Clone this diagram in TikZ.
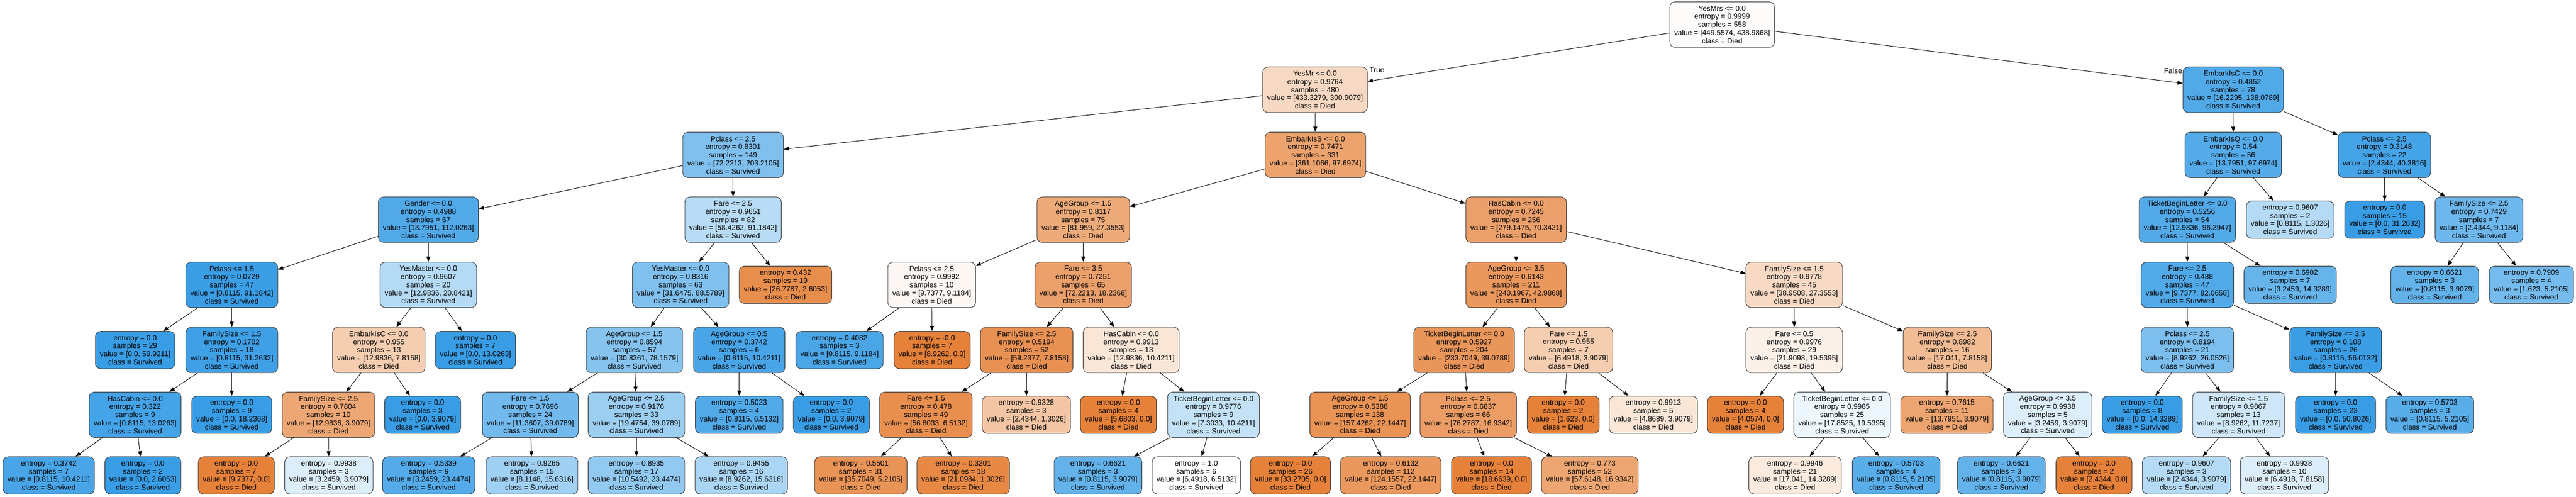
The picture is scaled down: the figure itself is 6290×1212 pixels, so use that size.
\documentclass[tikz,border=0pt]{standalone}
\usepackage{fontspec}
\setmainfont{Liberation Sans}
\usetikzlibrary{arrows.meta}
\usepackage{xcolor}
\definecolor{died}{RGB}{229,129,57}
\definecolor{surv}{RGB}{57,157,229}
\tikzset{
        split/.style={draw=black!80, line width=0.6pt, rounded corners=6.5pt, align=center,
                inner xsep=5.5pt, inner ysep=0pt, minimum height=55.5pt,
                font=\fontsize{9}{9.9}\selectfont},
        leaf/.style={split, minimum height=45.5pt},
        lbl/.style={inner sep=0pt, font=\fontsize{9}{9.9}\selectfont}
}

\begin{document}
\begin{tikzpicture}[x=0.5pt, y=0.5pt, >={Triangle[length=6.4pt,width=4.8pt]}]
        \useasboundingbox (0,0) rectangle (6290,-1212);

        % level 0 and 1
        \node [split,fill=died!2] (0) at (4205,-60) {YesMrs <= 0.0\\entropy = 0.9999\\samples = 558\\value = [449.5574, 438.9868]\\class = Died};
        \node [split,fill=died!31] (1) at (3211,-219) {YesMr <= 0.0\\entropy = 0.9764\\samples = 480\\value = [433.3279, 300.9079]\\class = Died};
        \node [split,fill=surv!88] (70) at (5453,-219) {EmbarkIsC <= 0.0\\entropy = 0.4852\\samples = 78\\value = [16.2295, 138.0789]\\class = Survived};
        \node [lbl,anchor=base west] (t) at ([xshift=2pt,yshift=-6.75pt]1.north east) {True};
        \node [lbl,anchor=base east] (f) at ([xshift=-0.5pt,yshift=-8pt]70.north west) {False};

        % level 2
        \node [split,fill=surv!64] (2) at (1790,-378) {Pclass <= 2.5\\entropy = 0.8301\\samples = 149\\value = [72.2213, 203.2105]\\class = Survived};
        \node [split,fill=died!73] (31) at (3212,-378) {EmbarkIsS <= 0.0\\entropy = 0.7471\\samples = 331\\value = [361.1066, 97.6974]\\class = Died};
        \node [split,fill=surv!86] (71) at (5453,-378) {EmbarkIsQ <= 0.0\\entropy = 0.54\\samples = 56\\value = [13.7951, 97.6974]\\class = Survived};
        \node [split,fill=surv!94] (84) at (5822,-378) {Pclass <= 2.5\\entropy = 0.3148\\samples = 22\\value = [2.4344, 40.3816]\\class = Survived};

        % level 3
        \node [split,fill=surv!88] (3) at (1046,-536) {Gender <= 0.0\\entropy = 0.4988\\samples = 67\\value = [13.7951, 112.0263]\\class = Survived};
        \node [split,fill=surv!36] (18) at (1790,-536) {Fare <= 2.5\\entropy = 0.9651\\samples = 82\\value = [58.4262, 91.1842]\\class = Survived};
        \node [split,fill=died!67] (32) at (2645,-536) {AgeGroup <= 1.5\\entropy = 0.8117\\samples = 75\\value = [81.959, 27.3553]\\class = Died};
        \node [split,fill=died!75] (47) at (3702,-536) {HasCabin <= 0.0\\entropy = 0.7245\\samples = 256\\value = [279.1475, 70.3421]\\class = Died};
        \node [split,fill=surv!87] (72) at (5341,-536) {TicketBeginLetter <= 0.0\\entropy = 0.5256\\samples = 54\\value = [12.9836, 96.3947]\\class = Survived};
        \node [leaf,fill=surv!38] (83) at (5592,-536) {entropy = 0.9607\\samples = 2\\value = [0.8115, 1.3026]\\class = Survived};
        \node [leaf,fill=surv] (85) at (5823,-536) {entropy = 0.0\\samples = 15\\value = [0.0, 31.2632]\\class = Survived};
        \node [split,fill=surv!73] (86) at (6053,-536) {FamilySize <= 2.5\\entropy = 0.7429\\samples = 7\\value = [2.4344, 9.1184]\\class = Survived};

        % level 4
        \node [split,fill=surv!99] (4) at (566,-695) {Pclass <= 1.5\\entropy = 0.0729\\samples = 47\\value = [0.8115, 91.1842]\\class = Survived};
        \node [split,fill=surv!38] (11) at (1046,-695) {YesMaster <= 0.0\\entropy = 0.9607\\samples = 20\\value = [12.9836, 20.8421]\\class = Survived};
        \node [split,fill=surv!64] (19) at (1662,-695) {YesMaster <= 0.0\\entropy = 0.8316\\samples = 63\\value = [31.6475, 88.5789]\\class = Survived};
        \node [leaf,fill=died!90] (30) at (1918,-695) {entropy = 0.432\\samples = 19\\value = [26.7787, 2.6053]\\class = Died};
        \node [split,fill=died!6] (33) at (2275,-695) {Pclass <= 2.5\\entropy = 0.9992\\samples = 10\\value = [9.7377, 9.1184]\\class = Died};
        \node [split,fill=died!75] (36) at (2645,-695) {Fare <= 3.5\\entropy = 0.7251\\samples = 65\\value = [72.2213, 18.2368]\\class = Died};
        \node [split,fill=died!82] (48) at (3702,-695) {AgeGroup <= 3.5\\entropy = 0.6143\\samples = 211\\value = [240.1967, 42.9868]\\class = Died};
        \node [split,fill=died!30] (59) at (4381,-695) {FamilySize <= 1.5\\entropy = 0.9778\\samples = 45\\value = [38.9508, 27.3553]\\class = Died};
        \node [split,fill=surv!88] (73) at (5341,-695) {Fare <= 2.5\\entropy = 0.488\\samples = 47\\value = [9.7377, 82.0658]\\class = Survived};
        \node [leaf,fill=surv!77] (82) at (5592,-695) {entropy = 0.6902\\samples = 7\\value = [3.2459, 14.3289]\\class = Survived};
        \node [leaf,fill=surv!79] (87) at (5945,-695) {entropy = 0.6621\\samples = 3\\value = [0.8115, 3.9079]\\class = Survived};
        \node [leaf,fill=surv!69] (88) at (6181,-695) {entropy = 0.7909\\samples = 4\\value = [1.623, 5.2105]\\class = Survived};

        % level 5
        \node [leaf,fill=surv] (5) at (330,-854) {entropy = 0.0\\samples = 29\\value = [0.0, 59.9211]\\class = Survived};
        \node [split,fill=surv!97] (6) at (566,-854) {FamilySize <= 1.5\\entropy = 0.1702\\samples = 18\\value = [0.8115, 31.2632]\\class = Survived};
        \node [split,fill=died!40] (12) at (925,-854) {EmbarkIsC <= 0.0\\entropy = 0.955\\samples = 13\\value = [12.9836, 7.8158]\\class = Died};
        \node [leaf,fill=surv] (17) at (1161,-854) {entropy = 0.0\\samples = 7\\value = [0.0, 13.0263]\\class = Survived};
        \node [split,fill=surv!61] (20) at (1549,-854) {AgeGroup <= 1.5\\entropy = 0.8594\\samples = 57\\value = [30.8361, 78.1579]\\class = Survived};
        \node [split,fill=surv!92] (27) at (1805,-854) {AgeGroup <= 0.5\\entropy = 0.3742\\samples = 6\\value = [0.8115, 10.4211]\\class = Survived};
        \node [leaf,fill=surv!91] (34) at (2050,-854) {entropy = 0.4082\\samples = 3\\value = [0.8115, 9.1184]\\class = Survived};
        \node [leaf,fill=died] (35) at (2276,-854) {entropy = -0.0\\samples = 7\\value = [8.9262, 0.0]\\class = Died};
        \node [split,fill=died!87] (37) at (2507,-854) {FamilySize <= 2.5\\entropy = 0.5194\\samples = 52\\value = [59.2377, 7.8158]\\class = Died};
        \node [split,fill=died!20] (42) at (2762,-854) {HasCabin <= 0.0\\entropy = 0.9913\\samples = 13\\value = [12.9836, 10.4211]\\class = Died};
        \node [split,fill=died!83] (49) at (3575,-854) {TicketBeginLetter <= 0.0\\entropy = 0.5927\\samples = 204\\value = [233.7049, 39.0789]\\class = Died};
        \node [split,fill=died!40] (56) at (3830,-854) {Fare <= 1.5\\entropy = 0.955\\samples = 7\\value = [6.4918, 3.9079]\\class = Died};
        \node [split,fill=died!11] (60) at (4381,-854) {Fare <= 0.5\\entropy = 0.9976\\samples = 29\\value = [21.9098, 19.5395]\\class = Died};
        \node [split,fill=died!54] (65) at (4755,-854) {FamilySize <= 2.5\\entropy = 0.8982\\samples = 16\\value = [17.041, 7.8158]\\class = Died};
        \node [split,fill=surv!66] (74) at (5341,-854) {Pclass <= 2.5\\entropy = 0.8194\\samples = 21\\value = [8.9262, 26.0526]\\class = Survived};
        \node [split,fill=surv!99] (79) at (5703,-854) {FamilySize <= 3.5\\entropy = 0.108\\samples = 26\\value = [0.8115, 56.0132]\\class = Survived};

        % level 6
        \node [split,fill=surv!94] (7) at (330,-1012) {HasCabin <= 0.0\\entropy = 0.322\\samples = 9\\value = [0.8115, 13.0263]\\class = Survived};
        \node [leaf,fill=surv] (10) at (566,-1012) {entropy = 0.0\\samples = 9\\value = [0.0, 18.2368]\\class = Survived};
        \node [split,fill=died!70] (13) at (802,-1012) {FamilySize <= 2.5\\entropy = 0.7804\\samples = 10\\value = [12.9836, 3.9079]\\class = Died};
        \node [leaf,fill=surv] (16) at (1032,-1012) {entropy = 0.0\\samples = 3\\value = [0.0, 3.9079]\\class = Survived};
        \node [split,fill=surv!71] (21) at (1295,-1012) {Fare <= 1.5\\entropy = 0.7696\\samples = 24\\value = [11.3607, 39.0789]\\class = Survived};
        \node [split,fill=surv!50] (24) at (1554,-1012) {AgeGroup <= 2.5\\entropy = 0.9176\\samples = 33\\value = [19.4754, 39.0789]\\class = Survived};
        \node [leaf,fill=surv!88] (28) at (1805,-1012) {entropy = 0.5023\\samples = 4\\value = [0.8115, 6.5132]\\class = Survived};
        \node [leaf,fill=surv] (29) at (2030,-1012) {entropy = 0.0\\samples = 2\\value = [0.0, 3.9079]\\class = Survived};
        \node [split,fill=died!89] (38) at (2261,-1012) {Fare <= 1.5\\entropy = 0.478\\samples = 49\\value = [56.8033, 6.5132]\\class = Died};
        \node [leaf,fill=died!46] (41) at (2506,-1012) {entropy = 0.9328\\samples = 3\\value = [2.4344, 1.3026]\\class = Died};
        \node [leaf,fill=died] (43) at (2731,-1012) {entropy = 0.0\\samples = 4\\value = [5.6803, 0.0]\\class = Died};
        \node [split,fill=surv!30] (44) at (2963,-1012) {TicketBeginLetter <= 0.0\\entropy = 0.9776\\samples = 9\\value = [7.3033, 10.4211]\\class = Survived};
        \node [split,fill=died!86] (50) at (3321,-1012) {AgeGroup <= 1.5\\entropy = 0.5388\\samples = 138\\value = [157.4262, 22.1447]\\class = Died};
        \node [split,fill=died!78] (53) at (3585,-1012) {Pclass <= 2.5\\entropy = 0.6837\\samples = 66\\value = [76.2787, 16.9342]\\class = Died};
        \node [leaf,fill=died] (57) at (3817,-1012) {entropy = 0.0\\samples = 2\\value = [1.623, 0.0]\\class = Died};
        \node [leaf,fill=died!20] (58) at (4037,-1012) {entropy = 0.9913\\samples = 5\\value = [4.8689, 3.9079]\\class = Died};
        \node [leaf,fill=died] (61) at (4262,-1012) {entropy = 0.0\\samples = 4\\value = [4.0574, 0.0]\\class = Died};
        \node [split,fill=surv!9] (62) at (4498,-1012) {TicketBeginLetter <= 0.0\\entropy = 0.9985\\samples = 25\\value = [17.8525, 19.5395]\\class = Survived};
        \node [leaf,fill=died!72] (66) at (4754,-1012) {entropy = 0.7615\\samples = 11\\value = [13.7951, 3.9079]\\class = Died};
        \node [split,fill=surv!17] (67) at (5000,-1012) {AgeGroup <= 3.5\\entropy = 0.9938\\samples = 5\\value = [3.2459, 3.9079]\\class = Survived};
        \node [leaf,fill=surv] (75) at (5231,-1012) {entropy = 0.0\\samples = 8\\value = [0.0, 14.3289]\\class = Survived};
        \node [split,fill=surv!24] (76) at (5466,-1012) {FamilySize <= 1.5\\entropy = 0.9867\\samples = 13\\value = [8.9262, 11.7237]\\class = Survived};
        \node [leaf,fill=surv] (80) at (5703,-1012) {entropy = 0.0\\samples = 23\\value = [0.0, 50.8026]\\class = Survived};
        \node [leaf,fill=surv!84] (81) at (5933,-1012) {entropy = 0.5703\\samples = 3\\value = [0.8115, 5.2105]\\class = Survived};

        % level 7
        \node [leaf,fill=surv!92] (8) at (119,-1160) {entropy = 0.3742\\samples = 7\\value = [0.8115, 10.4211]\\class = Survived};
        \node [leaf,fill=surv] (9) at (349,-1160) {entropy = 0.0\\samples = 2\\value = [0.0, 2.6053]\\class = Survived};
        \node [leaf,fill=died] (14) at (577,-1160) {entropy = 0.0\\samples = 7\\value = [9.7377, 0.0]\\class = Died};
        \node [leaf,fill=surv!17] (15) at (803,-1160) {entropy = 0.9938\\samples = 3\\value = [3.2459, 3.9079]\\class = Survived};
        \node [leaf,fill=surv!86] (22) at (1047,-1160) {entropy = 0.5339\\samples = 9\\value = [3.2459, 23.4474]\\class = Survived};
        \node [leaf,fill=surv!48] (23) at (1299,-1160) {entropy = 0.9265\\samples = 15\\value = [8.1148, 15.6316]\\class = Survived};
        \node [leaf,fill=surv!55] (25) at (1554,-1160) {entropy = 0.8935\\samples = 17\\value = [10.5492, 23.4474]\\class = Survived};
        \node [leaf,fill=surv!43] (26) at (1810,-1160) {entropy = 0.9455\\samples = 16\\value = [8.9262, 15.6316]\\class = Survived};
        \node [leaf,fill=died!85] (39) at (2102,-1160) {entropy = 0.5501\\samples = 31\\value = [35.7049, 5.2105]\\class = Died};
        \node [leaf,fill=died!94] (40) at (2352,-1160) {entropy = 0.3201\\samples = 18\\value = [21.0984, 1.3026]\\class = Died};
        \node [leaf,fill=surv!79] (45) at (2681,-1160) {entropy = 0.6621\\samples = 3\\value = [0.8115, 3.9079]\\class = Survived};
        \node [leaf,fill=white] (46) at (2921,-1160) {entropy = 1.0\\samples = 6\\value = [6.4918, 6.5132]\\class = Survived};
        \node [leaf,fill=died] (51) at (3151,-1160) {entropy = 0.0\\samples = 26\\value = [33.2705, 0.0]\\class = Died};
        \node [leaf,fill=died!82] (52) at (3396,-1160) {entropy = 0.6132\\samples = 112\\value = [124.1557, 22.1447]\\class = Died};
        \node [leaf,fill=died] (54) at (3642,-1160) {entropy = 0.0\\samples = 14\\value = [18.6639, 0.0]\\class = Died};
        \node [leaf,fill=died!71] (55) at (3882,-1160) {entropy = 0.773\\samples = 52\\value = [57.6148, 16.9342]\\class = Died};
        \node [leaf,fill=died!16] (63) at (4383,-1160) {entropy = 0.9946\\samples = 21\\value = [17.041, 14.3289]\\class = Died};
        \node [leaf,fill=surv!84] (64) at (4630,-1160) {entropy = 0.5703\\samples = 4\\value = [0.8115, 5.2105]\\class = Survived};
        \node [leaf,fill=surv!79] (68) at (4887,-1160) {entropy = 0.6621\\samples = 3\\value = [0.8115, 3.9079]\\class = Survived};
        \node [leaf,fill=died] (69) at (5113,-1160) {entropy = 0.0\\samples = 2\\value = [2.4344, 0.0]\\class = Died};
        \node [leaf,fill=surv!38] (77) at (5339,-1160) {entropy = 0.9607\\samples = 3\\value = [2.4344, 3.9079]\\class = Survived};
        \node [leaf,fill=surv!17] (78) at (5578,-1160) {entropy = 0.9938\\samples = 10\\value = [6.4918, 7.8158]\\class = Survived};

        % edges
        \draw [->, line width=0.6pt] (0) -- (1);
        \draw [->, line width=0.6pt] (0) -- (70);
        \draw [->, line width=0.6pt] (1) -- (2);
        \draw [->, line width=0.6pt] (1) -- (31);
        \draw [->, line width=0.6pt] (2) -- (3);
        \draw [->, line width=0.6pt] (2) -- (18);
        \draw [->, line width=0.6pt] (3) -- (4);
        \draw [->, line width=0.6pt] (3) -- (11);
        \draw [->, line width=0.6pt] (4) -- (5);
        \draw [->, line width=0.6pt] (4) -- (6);
        \draw [->, line width=0.6pt] (6) -- (7);
        \draw [->, line width=0.6pt] (6) -- (10);
        \draw [->, line width=0.6pt] (7) -- (8);
        \draw [->, line width=0.6pt] (7) -- (9);
        \draw [->, line width=0.6pt] (11) -- (12);
        \draw [->, line width=0.6pt] (11) -- (17);
        \draw [->, line width=0.6pt] (12) -- (13);
        \draw [->, line width=0.6pt] (12) -- (16);
        \draw [->, line width=0.6pt] (13) -- (14);
        \draw [->, line width=0.6pt] (13) -- (15);
        \draw [->, line width=0.6pt] (18) -- (19);
        \draw [->, line width=0.6pt] (18) -- (30);
        \draw [->, line width=0.6pt] (19) -- (20);
        \draw [->, line width=0.6pt] (19) -- (27);
        \draw [->, line width=0.6pt] (20) -- (21);
        \draw [->, line width=0.6pt] (20) -- (24);
        \draw [->, line width=0.6pt] (21) -- (22);
        \draw [->, line width=0.6pt] (21) -- (23);
        \draw [->, line width=0.6pt] (24) -- (25);
        \draw [->, line width=0.6pt] (24) -- (26);
        \draw [->, line width=0.6pt] (27) -- (28);
        \draw [->, line width=0.6pt] (27) -- (29);
        \draw [->, line width=0.6pt] (31) -- (32);
        \draw [->, line width=0.6pt] (31) -- (47);
        \draw [->, line width=0.6pt] (32) -- (33);
        \draw [->, line width=0.6pt] (32) -- (36);
        \draw [->, line width=0.6pt] (33) -- (34);
        \draw [->, line width=0.6pt] (33) -- (35);
        \draw [->, line width=0.6pt] (36) -- (37);
        \draw [->, line width=0.6pt] (36) -- (42);
        \draw [->, line width=0.6pt] (37) -- (38);
        \draw [->, line width=0.6pt] (37) -- (41);
        \draw [->, line width=0.6pt] (38) -- (39);
        \draw [->, line width=0.6pt] (38) -- (40);
        \draw [->, line width=0.6pt] (42) -- (43);
        \draw [->, line width=0.6pt] (42) -- (44);
        \draw [->, line width=0.6pt] (44) -- (45);
        \draw [->, line width=0.6pt] (44) -- (46);
        \draw [->, line width=0.6pt] (47) -- (48);
        \draw [->, line width=0.6pt] (47) -- (59);
        \draw [->, line width=0.6pt] (48) -- (49);
        \draw [->, line width=0.6pt] (48) -- (56);
        \draw [->, line width=0.6pt] (49) -- (50);
        \draw [->, line width=0.6pt] (49) -- (53);
        \draw [->, line width=0.6pt] (50) -- (51);
        \draw [->, line width=0.6pt] (50) -- (52);
        \draw [->, line width=0.6pt] (53) -- (54);
        \draw [->, line width=0.6pt] (53) -- (55);
        \draw [->, line width=0.6pt] (56) -- (57);
        \draw [->, line width=0.6pt] (56) -- (58);
        \draw [->, line width=0.6pt] (59) -- (60);
        \draw [->, line width=0.6pt] (59) -- (65);
        \draw [->, line width=0.6pt] (60) -- (61);
        \draw [->, line width=0.6pt] (60) -- (62);
        \draw [->, line width=0.6pt] (62) -- (63);
        \draw [->, line width=0.6pt] (62) -- (64);
        \draw [->, line width=0.6pt] (65) -- (66);
        \draw [->, line width=0.6pt] (65) -- (67);
        \draw [->, line width=0.6pt] (67) -- (68);
        \draw [->, line width=0.6pt] (67) -- (69);
        \draw [->, line width=0.6pt] (70) -- (71);
        \draw [->, line width=0.6pt] (70) -- (84);
        \draw [->, line width=0.6pt] (71) -- (72);
        \draw [->, line width=0.6pt] (71) -- (83);
        \draw [->, line width=0.6pt] (72) -- (73);
        \draw [->, line width=0.6pt] (72) -- (82);
        \draw [->, line width=0.6pt] (73) -- (74);
        \draw [->, line width=0.6pt] (73) -- (79);
        \draw [->, line width=0.6pt] (74) -- (75);
        \draw [->, line width=0.6pt] (74) -- (76);
        \draw [->, line width=0.6pt] (76) -- (77);
        \draw [->, line width=0.6pt] (76) -- (78);
        \draw [->, line width=0.6pt] (79) -- (80);
        \draw [->, line width=0.6pt] (79) -- (81);
        \draw [->, line width=0.6pt] (84) -- (85);
        \draw [->, line width=0.6pt] (84) -- (86);
        \draw [->, line width=0.6pt] (86) -- (87);
        \draw [->, line width=0.6pt] (86) -- (88);
\end{tikzpicture}
\end{document}
